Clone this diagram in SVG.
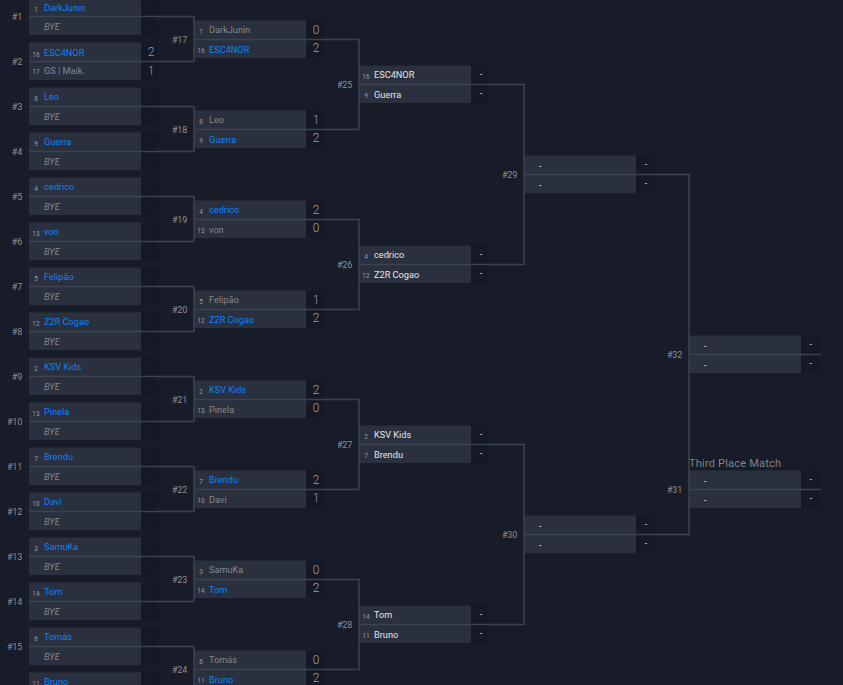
<svg xmlns="http://www.w3.org/2000/svg" width="843" height="685" viewBox="0 0 843 685">
<style>
text{font-family:Roboto,"Liberation Sans",sans-serif}
.bg{fill:#171c28}
.box{fill:#2a303e}
.sc{fill:#151925}
.id{font-size:9px;letter-spacing:-.2px;fill:#8c8f98;text-anchor:end}
.sd{font-size:6.5px;fill:#9a9da5;text-anchor:middle}
.n{font-size:9.2px}
.w{fill:#0b83fa}
.l{fill:#84878f}
.p{fill:#e4e5e8}
.b{fill:#84878f;font-style:italic}
.s{font-size:12px;font-weight:300;fill:#9a9da5;text-anchor:middle}
.d{font-size:10px;fill:#b4b6bc;text-anchor:middle}
.c{fill:none;stroke:#3b4250;stroke-width:1.5}
.t{font-size:11px;fill:#7f828b;letter-spacing:.2px}
</style>
<rect class="bg" width="843" height="685"/>
<defs>
<g id="frame"><rect class="sc" x="112" y="-18.5" width="18" height="37.5"/><rect class="box" x="0" y="-18.5" width="112" height="37.5"/></g>
</defs>
<g id="nodes">
<g id="m1" transform="translate(29 16)"><use href="#frame"/><text class="id" x="-7" y="4">#1</text><text class="sd" x="7" y="-4">1</text><text class="n w" x="15" y="-5">DarkJunin</text><text class="n b" x="15" y="14">BYE</text></g>
<g id="m2" transform="translate(29 61)"><use href="#frame"/><text class="id" x="-7" y="4">#2</text><text class="sd" x="7" y="-4">16</text><text class="n w" x="15" y="-5">ESC4NOR</text><text class="s" x="122" y="-5">2</text><text class="sd" x="7" y="13">17</text><text class="n l" x="15" y="13">GS | Maik.</text><text class="s" x="122" y="14">1</text></g>
<g id="m3" transform="translate(29 106)"><use href="#frame"/><text class="id" x="-7" y="4">#3</text><text class="sd" x="7" y="-5">8</text><text class="n w" x="15" y="-6">Leo</text><text class="n b" x="15" y="14">BYE</text></g>
<g id="m4" transform="translate(29 151)"><use href="#frame"/><text class="id" x="-7" y="4">#4</text><text class="sd" x="7" y="-5">9</text><text class="n w" x="15" y="-6">Guerra</text><text class="n b" x="15" y="14">BYE</text></g>
<g id="m5" transform="translate(29 196)"><use href="#frame"/><text class="id" x="-7" y="4">#5</text><text class="sd" x="7" y="-5">4</text><text class="n w" x="15" y="-6">cedrico</text><text class="n b" x="15" y="14">BYE</text></g>
<g id="m6" transform="translate(29 241)"><use href="#frame"/><text class="id" x="-7" y="4">#6</text><text class="sd" x="7" y="-5">13</text><text class="n w" x="15" y="-6">von</text><text class="n b" x="15" y="14">BYE</text></g>
<g id="m7" transform="translate(29 286)"><use href="#frame"/><text class="id" x="-7" y="4">#7</text><text class="sd" x="7" y="-5">5</text><text class="n w" x="15" y="-6">Felipão</text><text class="n b" x="15" y="14">BYE</text></g>
<g id="m8" transform="translate(29 331)"><use href="#frame"/><text class="id" x="-7" y="4">#8</text><text class="sd" x="7" y="-5">12</text><text class="n w" x="15" y="-6">Z2R Cogao</text><text class="n b" x="15" y="14">BYE</text></g>
<g id="m9" transform="translate(29 376)"><use href="#frame"/><text class="id" x="-7" y="4">#9</text><text class="sd" x="7" y="-5">2</text><text class="n w" x="15" y="-6">KSV Kids</text><text class="n b" x="15" y="14">BYE</text></g>
<g id="m10" transform="translate(29 421)"><use href="#frame"/><text class="id" x="-7" y="4">#10</text><text class="sd" x="7" y="-5">13</text><text class="n w" x="15" y="-6">Pinela</text><text class="n b" x="15" y="14">BYE</text></g>
<g id="m11" transform="translate(29 466)"><use href="#frame"/><text class="id" x="-7" y="4">#11</text><text class="sd" x="7" y="-5">7</text><text class="n w" x="15" y="-6">Brendu</text><text class="n b" x="15" y="14">BYE</text></g>
<g id="m12" transform="translate(29 511)"><use href="#frame"/><text class="id" x="-7" y="4">#12</text><text class="sd" x="7" y="-5">10</text><text class="n w" x="15" y="-6">Davi</text><text class="n b" x="15" y="14">BYE</text></g>
<g id="m13" transform="translate(29 556)"><use href="#frame"/><text class="id" x="-7" y="4">#13</text><text class="sd" x="7" y="-5">3</text><text class="n w" x="15" y="-6">SamuKa</text><text class="n b" x="15" y="14">BYE</text></g>
<g id="m14" transform="translate(29 601)"><use href="#frame"/><text class="id" x="-7" y="4">#14</text><text class="sd" x="7" y="-5">14</text><text class="n w" x="15" y="-6">Tom</text><text class="n b" x="15" y="14">BYE</text></g>
<g id="m15" transform="translate(29 646)"><use href="#frame"/><text class="id" x="-7" y="4">#15</text><text class="sd" x="7" y="-5">6</text><text class="n w" x="15" y="-6">Tomás</text><text class="n b" x="15" y="14">BYE</text></g>
<g id="m16" transform="translate(29 691)"><use href="#frame"/><text class="sd" x="7" y="-5">11</text><text class="n w" x="15" y="-6">Bruno</text></g>

<g id="m17" transform="translate(194 39)"><use href="#frame"/><text class="id" x="-7" y="4">#17</text><text class="sd" x="7" y="-5">1</text><text class="n l" x="15" y="-6">DarkJunin</text><text class="s" x="122" y="-5">0</text><text class="sd" x="7" y="14">16</text><text class="n w" x="15" y="14">ESC4NOR</text><text class="s" x="122" y="13">2</text></g>
<g id="m18" transform="translate(194 129)"><use href="#frame"/><text class="id" x="-7" y="4">#18</text><text class="sd" x="7" y="-5">8</text><text class="n l" x="15" y="-6">Leo</text><text class="s" x="122" y="-5">1</text><text class="sd" x="7" y="14">9</text><text class="n w" x="15" y="14">Guerra</text><text class="s" x="122" y="13">2</text></g>
<g id="m19" transform="translate(194 219)"><use href="#frame"/><text class="id" x="-7" y="4">#19</text><text class="sd" x="7" y="-5">4</text><text class="n w" x="15" y="-6">cedrico</text><text class="s" x="122" y="-5">2</text><text class="sd" x="7" y="14">13</text><text class="n l" x="15" y="14">von</text><text class="s" x="122" y="13">0</text></g>
<g id="m20" transform="translate(194 309)"><use href="#frame"/><text class="id" x="-7" y="4">#20</text><text class="sd" x="7" y="-5">5</text><text class="n l" x="15" y="-6">Felipão</text><text class="s" x="122" y="-5">1</text><text class="sd" x="7" y="14">12</text><text class="n w" x="15" y="14">Z2R Cogao</text><text class="s" x="122" y="13">2</text></g>
<g id="m21" transform="translate(194 399)"><use href="#frame"/><text class="id" x="-7" y="4">#21</text><text class="sd" x="7" y="-5">2</text><text class="n w" x="15" y="-6">KSV Kids</text><text class="s" x="122" y="-5">2</text><text class="sd" x="7" y="14">13</text><text class="n l" x="15" y="14">Pinela</text><text class="s" x="122" y="13">0</text></g>
<g id="m22" transform="translate(194 489)"><use href="#frame"/><text class="id" x="-7" y="4">#22</text><text class="sd" x="7" y="-5">7</text><text class="n w" x="15" y="-6">Brendu</text><text class="s" x="122" y="-5">2</text><text class="sd" x="7" y="14">10</text><text class="n l" x="15" y="14">Davi</text><text class="s" x="122" y="13">1</text></g>
<g id="m23" transform="translate(194 579)"><use href="#frame"/><text class="id" x="-7" y="4">#23</text><text class="sd" x="7" y="-5">3</text><text class="n l" x="15" y="-6">SamuKa</text><text class="s" x="122" y="-5">0</text><text class="sd" x="7" y="14">14</text><text class="n w" x="15" y="14">Tom</text><text class="s" x="122" y="13">2</text></g>
<g id="m24" transform="translate(194 669)"><use href="#frame"/><text class="id" x="-7" y="4">#24</text><text class="sd" x="7" y="-5">6</text><text class="n l" x="15" y="-6">Tomás</text><text class="s" x="122" y="-5">0</text><text class="sd" x="7" y="14">11</text><text class="n w" x="15" y="14">Bruno</text><text class="s" x="122" y="13">2</text></g>

<g id="m25" transform="translate(359 84)"><use href="#frame"/><text class="id" x="-7" y="4">#25</text><text class="sd" x="7" y="-5">16</text><text class="n p" x="15" y="-6">ESC4NOR</text><text class="d" x="122" y="-6">-</text><text class="sd" x="7" y="14">9</text><text class="n p" x="15" y="14">Guerra</text><text class="d" x="122" y="13">-</text></g>
<g id="m26" transform="translate(359 264)"><use href="#frame"/><text class="id" x="-7" y="4">#26</text><text class="sd" x="7" y="-5">4</text><text class="n p" x="15" y="-6">cedrico</text><text class="d" x="122" y="-6">-</text><text class="sd" x="7" y="14">12</text><text class="n p" x="15" y="14">Z2R Cogao</text><text class="d" x="122" y="13">-</text></g>
<g id="m27" transform="translate(359 444)"><use href="#frame"/><text class="id" x="-7" y="4">#27</text><text class="sd" x="7" y="-5">2</text><text class="n p" x="15" y="-6">KSV Kids</text><text class="d" x="122" y="-6">-</text><text class="sd" x="7" y="14">7</text><text class="n p" x="15" y="14">Brendu</text><text class="d" x="122" y="13">-</text></g>
<g id="m28" transform="translate(359 624)"><use href="#frame"/><text class="id" x="-7" y="4">#28</text><text class="sd" x="7" y="-5">14</text><text class="n p" x="15" y="-6">Tom</text><text class="d" x="122" y="-6">-</text><text class="sd" x="7" y="14">11</text><text class="n p" x="15" y="14">Bruno</text><text class="d" x="122" y="13">-</text></g>

<g id="m29" transform="translate(524 174)"><use href="#frame"/><text class="id" x="-7" y="4">#29</text><text class="n p" x="15" y="-5">-</text><text class="d" x="122" y="-6">-</text><text class="n p" x="15" y="14">-</text><text class="d" x="122" y="13">-</text></g>
<g id="m30" transform="translate(524 534)"><use href="#frame"/><text class="id" x="-7" y="4">#30</text><text class="n p" x="15" y="-5">-</text><text class="d" x="122" y="-6">-</text><text class="n p" x="15" y="14">-</text><text class="d" x="122" y="13">-</text></g>
<g id="m32" transform="translate(689 354)"><use href="#frame"/><text class="id" x="-7" y="4">#32</text><text class="n p" x="15" y="-5">-</text><text class="d" x="122" y="-6">-</text><text class="n p" x="15" y="14">-</text><text class="d" x="122" y="13">-</text></g>
<g id="m31" transform="translate(689 489)"><use href="#frame"/><text class="id" x="-7" y="4">#31</text><text class="n p" x="15" y="-5">-</text><text class="d" x="122" y="-6">-</text><text class="n p" x="15" y="14">-</text><text class="d" x="122" y="13">-</text><text class="t" x="0" y="-22">Third Place Match</text></g>
</g>
<g id="connectors">
<path class="c" d="M29 16.5H194V61.5H29M29 106.5H194V151.5H29M29 196.5H194V241.5H29M29 286.5H194V331.5H29M29 376.5H194V421.5H29M29 466.5H194V511.5H29M29 556.5H194V601.5H29M29 646.5H194V691.5H29"/>
<path class="c" d="M194 39.5H359V129.5H194M194 219.5H359V309.5H194M194 399.5H359V489.5H194M194 579.5H359V669.5H194"/>
<path class="c" d="M359 84.5H524V264.5H359M359 444.5H524V624.5H359"/>
<path class="c" d="M524 174.5H689V534.5H524"/>
<path class="c" d="M689 354.5H821M689 489.5H821"/>
</g>
</svg>
